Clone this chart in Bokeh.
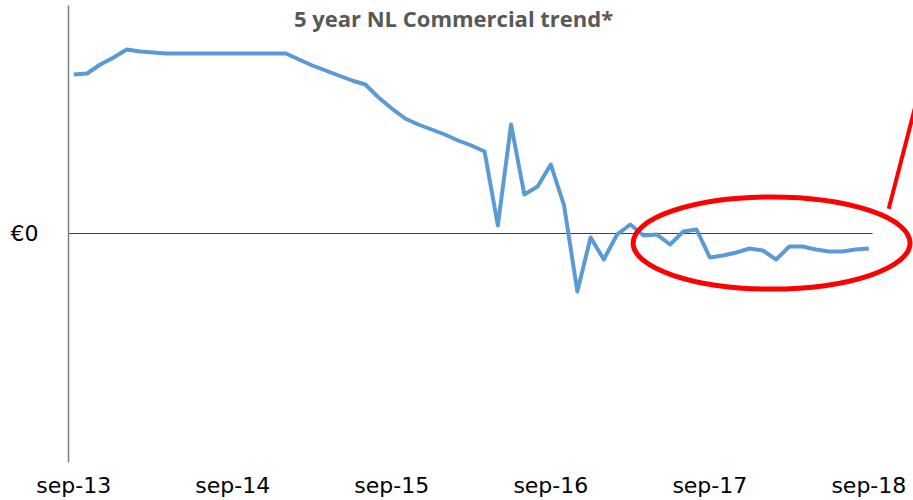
from bokeh.plotting import figure
from bokeh.models import FixedTicker, Range1d, Label
from bokeh.embed import file_html
from bokeh.resources import INLINE

# month index 0 = sep-13 ... 60 = sep-18
months = list(range(61))
values = [15.9, 16.0, 16.9, 17.6, 18.4, 18.2, 18.1, 18.0,
          18.0, 18.0, 18.0, 18.0, 18.0, 18.0, 18.0, 18.0, 18.0,
          17.4, 16.8, 16.3, 15.8, 15.3, 14.9, 13.6, 12.5, 11.5, 10.9,
          10.4, 9.9, 9.3, 8.8, 8.2, 0.8, 10.9, 3.9, 4.7, 6.9, 2.8,
          -5.8, -0.4, -2.6, -0.1, 0.9, -0.2, -0.1, -1.1, 0.2, 0.4,
          -2.4, -2.2, -1.9, -1.5, -1.7, -2.6, -1.3, -1.3, -1.6, -1.8,
          -1.8, -1.6, -1.5]
tick_months = [0, 12, 24, 36, 48, 60]
tick_labels = ["sep-13", "sep-14", "sep-15", "sep-16", "sep-17", "sep-18"]
y_ticks = [0]
y_tick_labels = ["€0"]
title_text = "5 year NL Commercial trend*"

p = figure(width=913, height=500, output_backend="svg", toolbar_location=None,
           x_range=Range1d(-0.4, 63.37), y_range=Range1d(-22.9, 22.8),
           min_border_left=68, min_border_right=0, min_border_top=5,
           min_border_bottom=38)
p.outline_line_color = None
p.xgrid.visible = False
p.ygrid.visible = False
p.background_fill_color = "white"
p.border_fill_color = "white"

# zero reference line
p.segment(x0=[p.x_range.start], y0=[0], x1=[months[-1] + 0.28], y1=[0],
          line_color="#404040", line_width=1)

p.line(months, values, line_color="#5B9BD5", line_width=4, line_join="round")

# red annotation ellipse and pointer
p.ellipse(x=[52.66], y=[-0.95], width=20.9, height=9.2, fill_color=None,
          line_color="#FF0000", line_width=5)
p.segment(x0=[61.5], y0=[2.47], x1=[63.6], y1=[13.2], line_color="#FF0000", line_width=4)

# axes
xa = p.xaxis[0]
xa.ticker = FixedTicker(ticks=tick_months)
xa.major_label_overrides = {m: l for m, l in zip(tick_months, tick_labels)}
xa.axis_line_color = None
xa.major_tick_line_color = None
xa.minor_tick_line_color = None
xa.major_tick_out = 0
xa.major_label_standoff = 10
xa.major_label_text_font = "DejaVu Sans"
xa.major_label_text_font_size = "22px"
xa.major_label_text_color = "black"

ya = p.yaxis[0]
ya.ticker = FixedTicker(ticks=y_ticks)
ya.major_label_overrides = {t: l for t, l in zip(y_ticks, y_tick_labels)}
ya.axis_line_color = "#7f7f7f"
ya.axis_line_width = 1.5
ya.major_tick_line_color = None
ya.minor_tick_line_color = None
ya.major_tick_out = 0
ya.major_label_standoff = 30
ya.major_label_text_font = "DejaVu Sans"
ya.major_label_text_font_size = "22px"
ya.major_label_text_color = "black"

p.add_layout(Label(x=28.66, y=21.6, text=title_text, text_align="center",
                   text_baseline="middle", text_font="Open Sans", text_font_style="bold",
                   text_font_size="22px", text_color="#595959"))

open("out.html", "w").write(file_html(p, INLINE))
